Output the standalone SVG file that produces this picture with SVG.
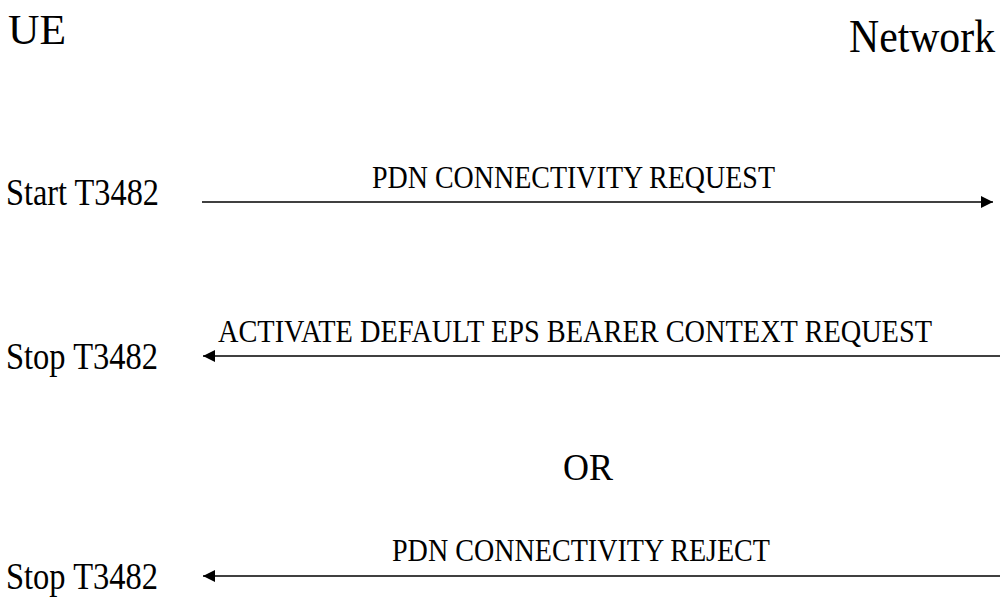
<svg xmlns="http://www.w3.org/2000/svg" width="1000" height="603" viewBox="0 0 1000 603">
<style>
text{font-family:"Liberation Serif","Times New Roman",serif;fill:#000}
.lbl{font-size:32px}
.side{font-size:38px}
line{stroke:#000;stroke-width:1.3}
</style>
<defs><marker id="ah" viewBox="0 0 10 10" refX="10" refY="5" markerWidth="16" markerHeight="12" markerUnits="userSpaceOnUse" orient="auto"><path d="M0,0 L10,5 L0,10 z" fill="#000"/></marker></defs>
<rect width="1000" height="603" fill="#fff"/>
<g id="ue"><text x="8" y="44" font-size="42" textLength="58" lengthAdjust="spacingAndGlyphs">UE</text></g>
<g id="network"><text x="849" y="52" font-size="46" textLength="146" lengthAdjust="spacingAndGlyphs">Network</text></g>
<g id="labels">
<text class="side" x="6" y="205" textLength="153" lengthAdjust="spacingAndGlyphs">Start T3482</text>
<text class="side" x="6" y="369" textLength="152" lengthAdjust="spacingAndGlyphs">Stop T3482</text>
<text class="side" x="6" y="589" textLength="152" lengthAdjust="spacingAndGlyphs">Stop T3482</text>
<text x="563" y="480" font-size="37" textLength="50" lengthAdjust="spacingAndGlyphs">OR</text>
</g>
<g id="connectors">
<line x1="202" y1="202" x2="993" y2="202" marker-end="url(#ah)"/>
<text class="lbl" x="372" y="188" textLength="403" lengthAdjust="spacingAndGlyphs">PDN CONNECTIVITY REQUEST</text>
<line x1="1000" y1="356" x2="203" y2="356" marker-end="url(#ah)"/>
<text class="lbl" x="218" y="342" textLength="714" lengthAdjust="spacingAndGlyphs">ACTIVATE DEFAULT EPS BEARER CONTEXT REQUEST</text>
<line x1="1000" y1="576" x2="203" y2="576" marker-end="url(#ah)"/>
<text class="lbl" x="392" y="561" textLength="378" lengthAdjust="spacingAndGlyphs">PDN CONNECTIVITY REJECT</text>
</g>
</svg>
